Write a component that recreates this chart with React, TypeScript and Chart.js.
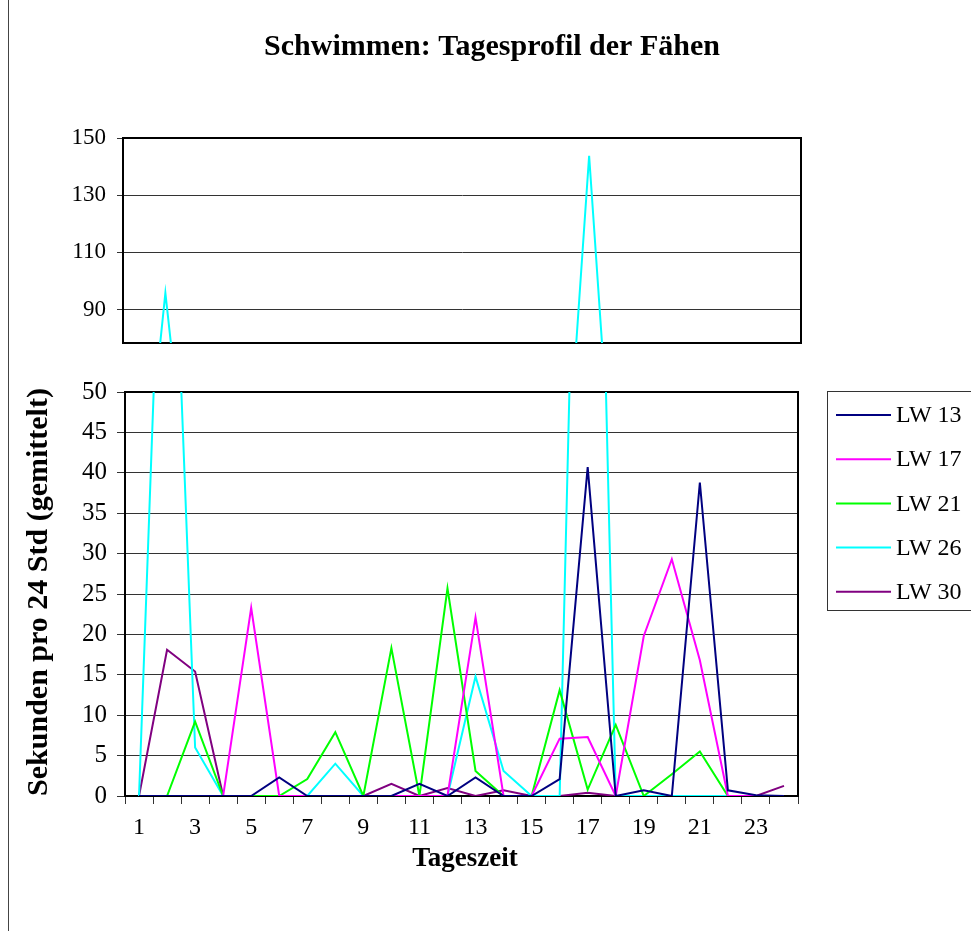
import { useEffect, useRef } from "react";
import { Chart, registerables } from "chart.js";

Chart.register(...registerables);

const hours = ["1","2","3","4","5","6","7","8","9","10","11","12","13","14","15","16","17","18","19","20","21","22","23","24"];
const lw13 = [0, 0, 0, 0, 0, 2.3, 0, 0, 0, 0, 1.5, 0, 2.3, 0, 0, 2.1, 40.7, 0, 0.7, 0, 38.8, 0.7, 0.1, 0];
const lw17 = [0, 0, 0, 0, 23.3, 0, 0, 0, 0, 0, 0, 0, 22.1, 0, 0, 7.1, 7.3, 0, 19.8, 29.3, 16.8, 0, 0, 0];
const lw21 = [0, 0, 9.2, 0, 0, 0, 2.1, 7.9, 0, 18.3, 0, 25.7, 3.1, 0, 0, 13.1, 0.8, 8.8, 0, 2.7, 5.5, 0, 0, 0];
const lw26 = [0, 95.8, 6.0, 0, 0, 0, 0, 4.0, 0, 0, 0, 0, 14.8, 3.1, 0, 0, 143.8, 0, 0, 0, 0, 0, 0, 0];
const lw30 = [0, 18.1, 15.4, 0, 0, 0, 0, 0, 0, 1.5, 0, 1.0, 0, 0.7, 0, 0, 0.4, 0, 0, 0, 0, 0, 0, 1.25];
const seriesNames = ["LW 13", "LW 17", "LW 21", "LW 26", "LW 30"];
const seriesColors = ["#000080", "#FF00FF", "#00FF00", "#00FFFF", "#800080"];
const upperTickValues = [90, 110, 130, 150];
const lowerTickStep = 5;

const chartTitle = "Schwimmen: Tagesprofil der Fähen";
const yTitle = "Sekunden pro 24 Std (gemittelt)";
const xTitle = "Tageszeit";

const SERIF = "'Liberation Serif', 'Times New Roman', serif";
const W = 971;
const H = 931;

function makeDatasets() {
  return [lw13, lw17, lw21, lw26, lw30].map((d, i) => ({
    label: seriesNames[i],
    data: d,
    borderColor: seriesColors[i],
    backgroundColor: seriesColors[i],
    borderWidth: 2,
    pointRadius: 0,
    pointHoverRadius: 0,
    tension: 0,
    fill: false,
  }));
}

const framePlugin = {
  id: "frameBox",
  beforeDatasetsDraw(chart: any) {
    const { ctx, chartArea: a } = chart;
    ctx.save();
    ctx.strokeStyle = "#000";
    ctx.lineWidth = 2;
    ctx.strokeRect(a.left, a.top, a.right - a.left, a.bottom - a.top);
    ctx.restore();
  },
};

const upperTextPlugin = {
  id: "upperText",
  afterDraw(chart: any) {
    const { ctx } = chart;
    ctx.save();
    ctx.fillStyle = "#000";
    ctx.font = `bold 30px ${SERIF}`;
    ctx.textAlign = "center";
    ctx.textBaseline = "middle";
    ctx.fillText(chartTitle, 492, 47);
    ctx.restore();
  },
};

const lowerTextPlugin = {
  id: "lowerText",
  afterDraw(chart: any) {
    const { ctx } = chart;
    ctx.save();
    ctx.fillStyle = "#000";
    ctx.font = `bold 30px ${SERIF}`;
    ctx.textAlign = "center";
    ctx.textBaseline = "middle";
    ctx.save();
    ctx.translate(39, 592);
    ctx.rotate(-Math.PI / 2);
    ctx.fillText(yTitle, 0, 0);
    ctx.restore();
    ctx.font = `bold 27px ${SERIF}`;
    ctx.fillText(xTitle, 465, 859);
    // legend
    const ds = chart.data.datasets;
    ctx.strokeStyle = "#333";
    ctx.lineWidth = 1;
    ctx.strokeRect(827.5, 391.5, 160, 219);
    ctx.font = `24px ${SERIF}`;
    ctx.textAlign = "left";
    ds.forEach((d: any, i: number) => {
      const y = 415 + i * 44.2;
      ctx.strokeStyle = d.borderColor;
      ctx.lineWidth = 2;
      ctx.beginPath();
      ctx.moveTo(836, y);
      ctx.lineTo(891, y);
      ctx.stroke();
      ctx.fillStyle = "#000";
      ctx.fillText(d.label, 896, y + 1);
    });
    ctx.restore();
  },
};

export default function App() {
  const upperRef = useRef<HTMLCanvasElement>(null);
  const lowerRef = useRef<HTMLCanvasElement>(null);

  useEffect(() => {
    const lower = new Chart(lowerRef.current as HTMLCanvasElement, {
      type: "line",
      data: { labels: hours, datasets: makeDatasets() as any },
      options: {
        responsive: false,
        animation: false,
        devicePixelRatio: 1,
        events: [],
        layout: { padding: { left: 10, right: W - 798, top: 392, bottom: 0 } },
        plugins: { legend: { display: false }, title: { display: false }, tooltip: { enabled: false } },
        scales: {
          x: {
            type: "category",
            offset: true,
            grid: { display: true, drawOnChartArea: false, offset: true, tickLength: 8, color: "#333" },
            border: { display: true, color: "#000", width: 2 },
            ticks: {
              autoSkip: false,
              maxRotation: 0,
              minRotation: 0,
              padding: 9,
              color: "#000",
              font: { family: SERIF, size: 24 },
              callback: (_v: any, i: number) => (i % 2 === 0 ? hours[i] : ""),
            },
            afterFit: (s: any) => { s.height = H - 796; },
          },
          y: {
            min: 0,
            max: 50,
            grid: { color: "#333", lineWidth: 1, tickLength: 8 },
            border: { display: true, color: "#000", width: 2 },
            ticks: { stepSize: lowerTickStep, padding: 10, color: "#000", font: { family: SERIF, size: 25 } },
            afterFit: (s: any) => { s.width = 115; },
          },
        },
      },
      plugins: [framePlugin, lowerTextPlugin],
    });

    const upper = new Chart(upperRef.current as HTMLCanvasElement, {
      type: "line",
      data: { labels: hours, datasets: makeDatasets() as any },
      options: {
        responsive: false,
        animation: false,
        devicePixelRatio: 1,
        events: [],
        layout: { padding: { left: 0, right: W - 801, top: 138, bottom: H - 343 } },
        plugins: { legend: { display: false }, title: { display: false }, tooltip: { enabled: false } },
        scales: {
          x: { type: "category", offset: true, display: false },
          y: {
            min: 78.3,
            max: 150,
            afterBuildTicks: (s: any) => { s.ticks = upperTickValues.map((v) => ({ value: v })); },
            grid: { color: "#333", lineWidth: 1, tickLength: 6 },
            border: { display: true, color: "#000", width: 2 },
            ticks: { padding: 11, color: "#000", font: { family: SERIF, size: 23 } },
            afterFit: (s: any) => { s.width = 123; },
          },
        },
      },
      plugins: [framePlugin, upperTextPlugin],
    });

    return () => {
      upper.destroy();
      lower.destroy();
    };
  }, []);

  return (
    <div style={{ position: "absolute", left: 0, top: 0, width: W, height: H, background: "#fff", overflow: "hidden" }}>
      <div style={{ position: "absolute", left: 8, top: 0, width: 1, height: H, background: "#444" }} />
      <canvas ref={lowerRef} width={W} height={H} style={{ position: "absolute", left: 0, top: 0, width: W, height: H }} />
      <canvas ref={upperRef} width={W} height={H} style={{ position: "absolute", left: 0, top: 0, width: W, height: H, pointerEvents: "none" }} />
    </div>
  );
}
